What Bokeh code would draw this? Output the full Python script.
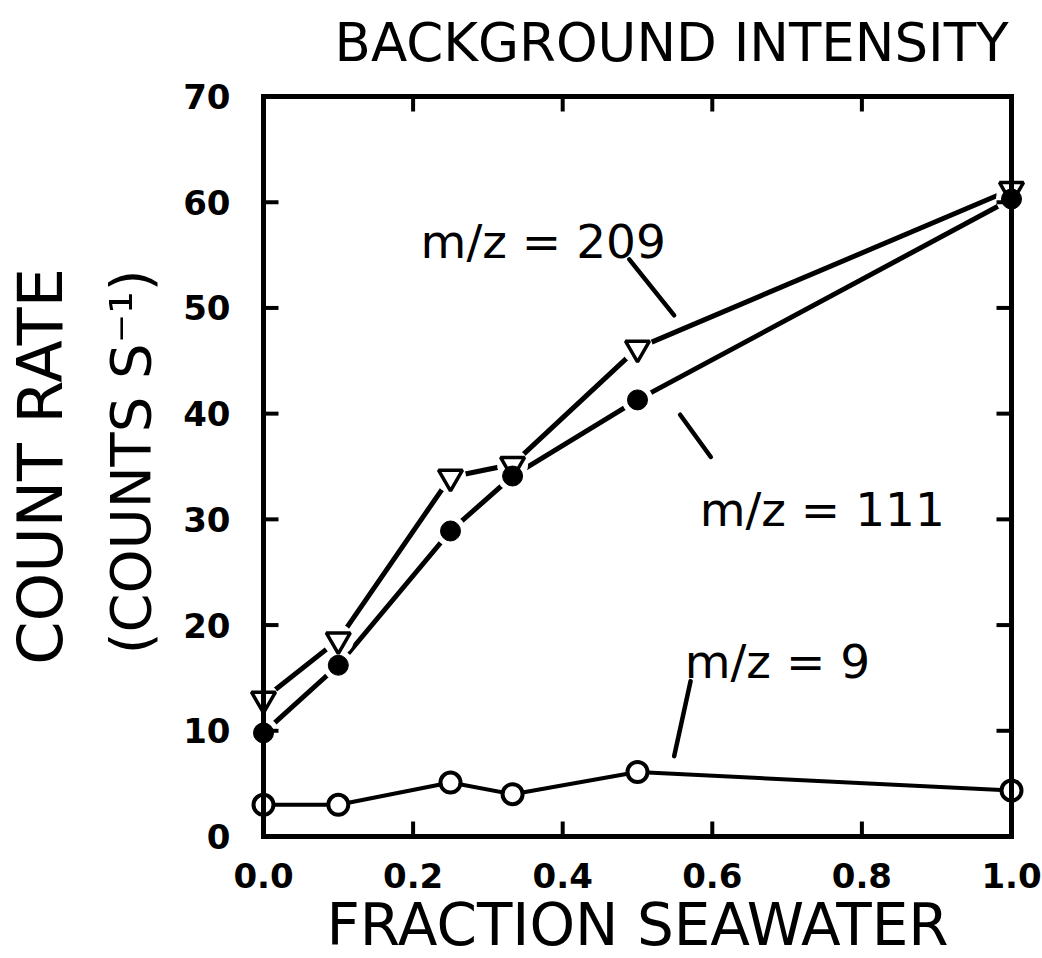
from bokeh.plotting import figure
from bokeh.models import Label, Range1d, FixedTicker, NumeralTickFormatter, Title
from bokeh.embed import file_html
from bokeh.resources import INLINE

# ---- data -------------------------------------------------------------
frac = [0.0, 0.1, 0.25, 0.333, 0.5, 1.0]          # fraction seawater
mz209 = [13.0, 18.6, 34.0, 35.2, 46.2, 61.2]      # counts / s, m/z = 209
mz111 = [9.8, 16.2, 28.9, 34.1, 41.3, 60.3]       # counts / s, m/z = 111
mz9 = [3.0, 3.0, 5.1, 4.0, 6.1, 4.35]             # counts / s, m/z = 9

x_ticks = [0.0, 0.2, 0.4, 0.6, 0.8, 1.0]
y_ticks = [0, 10, 20, 30, 40, 50, 60, 70]

series_names = ["m/z = 209", "m/z = 111", "m/z = 9"]

# ---- layout -----------------------------------------------------------
FRAME_W, FRAME_H = 748, 740          # inner box size in px
PAD = 14                             # px of breathing room so edge markers are not clipped
x0, x1 = x_ticks[0], x_ticks[-1]
y0, y1 = y_ticks[0], y_ticks[-1]
px_x = (x1 - x0) / FRAME_W
px_y = (y1 - y0) / FRAME_H

FONT = "DejaVu Sans"

p = figure(
    frame_width=FRAME_W + 2 * PAD,
    frame_height=FRAME_H + 2 * PAD,
    x_range=Range1d(x0 - PAD * px_x, x1 + PAD * px_x),
    y_range=Range1d(y0 - PAD * px_y, y1 + PAD * px_y),
    min_border_left=248, min_border_right=18,
    min_border_top=81, min_border_bottom=109,
    output_backend="svg", toolbar_location=None,
    background_fill_color="white", border_fill_color="white",
)
p.grid.visible = False
p.outline_line_color = None

for ax, ticks in ((p.xaxis, x_ticks), (p.yaxis, y_ticks)):
    ax.ticker = FixedTicker(ticks=ticks)
    ax.axis_line_color = None
    ax.major_tick_line_color = None
    ax.minor_tick_line_color = None
    ax.major_label_text_font = FONT
    ax.major_label_text_font_style = "bold"
    ax.major_label_text_font_size = "34px"
    ax.major_label_text_color = "black"
p.xaxis.formatter = NumeralTickFormatter(format="0.0")
p.xaxis.major_label_standoff = 6
p.yaxis.major_label_standoff = 13

# ---- series lines -----------------------------------------------------
p.line(frac, mz209, line_color="black", line_width=5)
p.line(frac, mz111, line_color="black", line_width=5)
p.line(frac, mz9, line_color="black", line_width=4)

# white halos leave small gaps where the lines meet the markers
p.scatter(frac, mz209, marker="circle", size=31, fill_color="white", line_color=None)
p.scatter(frac, mz111, marker="circle", size=31, fill_color="white", line_color=None)

# ---- markers ----------------------------------------------------------
p.scatter(frac, mz209, marker="inverted_triangle", size=24,
          fill_color="white", line_color="black", line_width=3.5)
p.scatter(frac, mz111, marker="circle", size=20,
          fill_color="black", line_color="black", line_width=1)
p.scatter(frac, mz9, marker="circle", size=20,
          fill_color="white", line_color="black", line_width=4)

# ---- box with inward ticks -------------------------------------------
p.quad(left=x0, right=x1, bottom=y0, top=y1, fill_color=None,
       line_color="black", line_width=5, line_join="miter")
TICK = 15
tx = x_ticks[1:-1]
ty = y_ticks[1:-1]
p.segment(x0=tx, y0=[y0] * len(tx), x1=tx, y1=[y0 + TICK * px_y] * len(tx),
          line_color="black", line_width=4)
p.segment(x0=tx, y0=[y1] * len(tx), x1=tx, y1=[y1 - TICK * px_y] * len(tx),
          line_color="black", line_width=4)
p.segment(x0=[x0] * len(ty), y0=ty, x1=[x0 + TICK * px_x] * len(ty), y1=ty,
          line_color="black", line_width=4)
p.segment(x0=[x1] * len(ty), y0=ty, x1=[x1 - TICK * px_x] * len(ty), y1=ty,
          line_color="black", line_width=4)

# ---- series annotations with leader lines -----------------------------
lead_x0 = [0.489, 0.557, 0.571]
lead_y0 = [54.6, 39.9, 14.7]
lead_x1 = [0.549, 0.598, 0.549]
lead_y1 = [49.3, 35.9, 7.6]
p.segment(x0=lead_x0, y0=lead_y0, x1=lead_x1, y1=lead_y1,
          line_color="black", line_width=4.5, line_cap="round")

label_pos = [(0.374, 56.3), (0.747, 30.9), (0.687, 16.55)]
for name, (lx, ly) in zip(series_names, label_pos):
    p.add_layout(Label(x=lx, y=ly, text=name, text_font=FONT,
                       text_font_size="47px", text_align="center",
                       text_baseline="alphabetic", text_color="black"))

# ---- titles in the side panels ----------------------------------------
def side_title(text, size, standoff, align="center", offset=0):
    return Title(text=text, text_font=FONT, text_font_size=size,
                 text_font_style="normal", text_color="black",
                 align=align, offset=offset, standoff=standoff)

p.add_layout(side_title("BACKGROUND INTENSITY", "53px", 19, "right", 17), "above")
p.add_layout(side_title("FRACTION SEAWATER", "58px", -3), "below")
p.add_layout(side_title("(COUNTS S\u207b\u00b9)", "56px", 35, "right", 187), "left")
p.add_layout(side_title("COUNT RATE", "62px", 3), "left")

open("out.html", "w").write(file_html(p, INLINE))
